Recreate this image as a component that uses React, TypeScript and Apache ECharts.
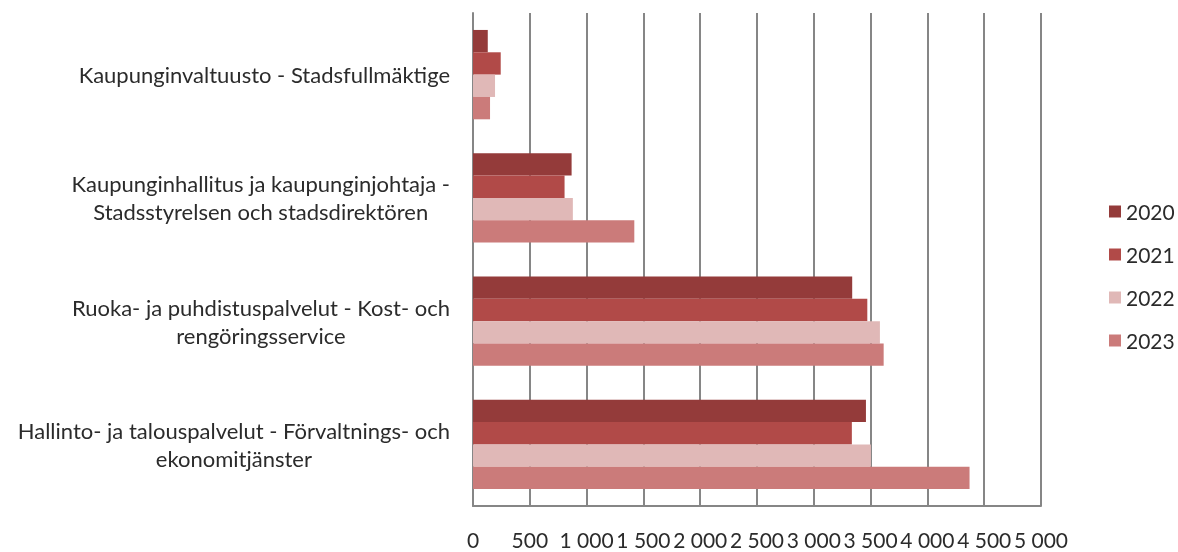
import React, { useEffect, useRef } from "react";
import * as echarts from "echarts";

const categories = [
  "Kaupunginvaltuusto - Stadsfullmäktige",
  "Kaupunginhallitus ja kaupunginjohtaja -\nStadsstyrelsen och stadsdirektören",
  "Ruoka- ja puhdistuspalvelut - Kost- och\nrengöringsservice",
  "Hallinto- ja talouspalvelut - Förvaltnings- och\nekonomitjänster",
];
const seriesNames = ["2020", "2021", "2022", "2023"];
const values2020 = [130, 868, 3338, 3459];
const values2021 = [244, 806, 3471, 3335];
const values2022 = [194, 879, 3582, 3503];
const values2023 = [150, 1420, 3615, 4371];
const colors = ["#943B3A", "#B14A48", "#E0B8B7", "#CB7B7A"];

const FONT = "Lato";
const TEXT = "#2b2b2b";

export default function App() {
  const ref = useRef<HTMLDivElement>(null);
  useEffect(() => {
    if (!ref.current) return;
    const chart = echarts.init(ref.current, null, { renderer: "svg" });
    const all = [values2020, values2021, values2022, values2023];
    chart.setOption({
      animation: false,
      textStyle: { fontFamily: FONT },
      grid: { left: 473, right: 137, top: 13, bottom: 46, containLabel: false },
      legend: {
        orient: "vertical",
        left: 1104,
        top: 196,
        itemWidth: 12,
        itemHeight: 12,
        itemGap: 22,
        icon: "rect",
        data: seriesNames,
        textStyle: { fontFamily: FONT, fontSize: 21, color: TEXT },
      },
      xAxis: {
        type: "value",
        min: 0,
        max: 5000,
        interval: 500,
        axisLine: { show: true, lineStyle: { color: "#868686", width: 2 } },
        axisTick: { show: false },
        splitLine: { show: true, lineStyle: { color: "#868686", width: 2 } },
        axisLabel: {
          fontFamily: FONT,
          fontSize: 21,
          lineHeight: 22,
          color: TEXT,
          margin: 22,
          hideOverlap: false,
          formatter: (v: number) => (v >= 1000 ? `${Math.floor(v / 1000)} ${String(v % 1000).padStart(3, "0")}` : String(v)),
        },
      },
      yAxis: {
        type: "category",
        inverse: true,
        data: categories,
        axisLine: { show: true, lineStyle: { color: "#868686", width: 2 } },
        axisTick: { show: false },
        axisLabel: {
          margin: 23,
          align: "right",
          formatter: (v: string) => v.split("\n").map((l) => `{c|${l}}`).join("\n"),
          rich: {
            c: { align: "center", fontFamily: FONT, fontSize: 22, color: TEXT, lineHeight: 28 },
          },
        },
      },
      series: seriesNames.map((name, i) => ({
        name,
        type: "bar",
        data: all[i],
        barGap: "0%",
        barCategoryGap: "27.5%",
        itemStyle: { color: colors[i] },
      })),
    });
    return () => chart.dispose();
  }, []);
  return <div ref={ref} style={{ position: "fixed", left: 0, top: 0, width: 1178, height: 552 }} />;
}
